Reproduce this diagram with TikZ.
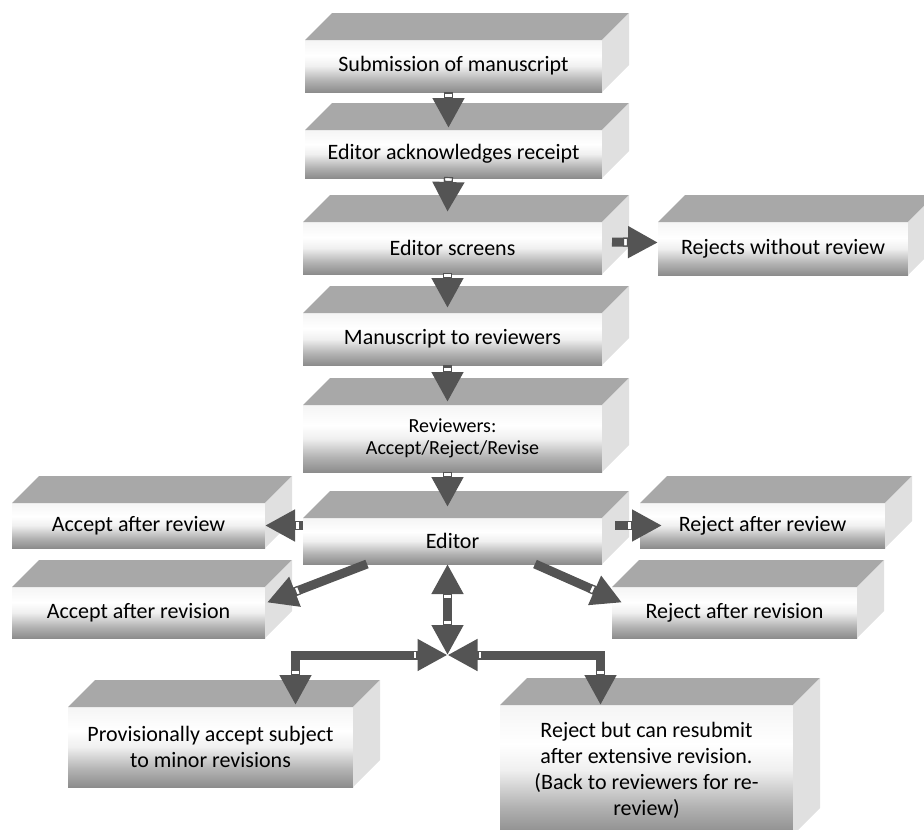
\documentclass[tikz,border=0pt]{standalone}
\usepackage{fontspec}
\setmainfont{Carlito}
\usetikzlibrary{arrows.meta}
\pgfdeclareverticalshading{slabshade}{100bp}{color(0bp)=(black!45); color(25bp)=(black!45); color(36bp)=(black!30); color(50bp)=(black!6); color(60bp)=(white); color(75bp)=(black!4); color(100bp)=(black!4)}
\begin{document}
\begin{tikzpicture}[x=1pt, y=-1pt,
  every node/.style={font=\fontsize{22}{26}\selectfont, text=black},
  slab/.style={shade, shading=slabshade, align=center, inner sep=0pt, outer sep=0pt},
  topface/.style={fill=black!34},
  sideface/.style={fill=black!12},
  flow/.style={draw=black!67, line width=9pt, -{Rectangle[length=5pt,width=9pt,line width=1.2pt,fill=white,sep=0pt] Triangle[width=30pt,length=30pt]}},
  flowboth/.style={draw=black!67, line width=9pt, {Triangle[width=30pt,length=30pt] Rectangle[length=5pt,width=9pt,line width=1.2pt,fill=white,sep=0pt]}-{Rectangle[length=5pt,width=9pt,line width=1.2pt,fill=white,sep=0pt] Triangle[width=30pt,length=30pt]}}]
\useasboundingbox (0,0) rectangle (924,830);
% Main column
\node[slab, minimum width=297pt, minimum height=52pt] (sub) at (453.5,66) {Submission of manuscript};
\node[slab, minimum width=297pt, minimum height=48pt] (ack) at (453.5,154) {Editor acknowledges receipt};
\node[slab, minimum width=299pt, minimum height=52pt] (scr) at (452.5,248) {Editor screens};
\node[slab, minimum width=299pt, minimum height=52pt] (mtr) at (452.5,339) {Manuscript to reviewers};
\node[slab, minimum width=299pt, minimum height=67pt, font=\fontsize{20}{22}\selectfont] (rev) at (452.5,438.5) {Reviewers:\\Accept/Reject/Revise};
\node[slab, minimum width=299pt, minimum height=46pt] (ed) at (452.5,541) {Editor};
% Outcomes
\node[slab, minimum width=250pt, minimum height=53pt] (rwo) at (783,248.5) {Rejects without review};
\node[slab, minimum width=253pt, minimum height=45pt] (aar) at (138.5,525.5) {Accept after review};
\node[slab, minimum width=253pt, minimum height=51pt] (aav) at (138.5,612.5) {Accept after revision};
\node[slab, minimum width=245pt, minimum height=45pt] (rar) at (762.5,525.5) {Reject after review};
\node[slab, minimum width=245pt, minimum height=51pt] (rjv) at (734.5,612.5) {Reject after revision};
\node[slab, minimum width=285pt, minimum height=80pt] (pas) at (210.5,747) {Provisionally accept subject\\to minor revisions};
\node[slab, minimum width=293pt, minimum height=130pt] (rbr) at (646.5,770) {Reject but can resubmit\\after extensive revision.\\(Back to reviewers for re-\\review)};
% Top and side faces
\foreach \n in {sub,ack,scr,mtr,rev,ed,rwo,aar,aav,rar,rjv,pas,rbr} {
  \fill[topface] (\n.north west) -- ([xshift=27pt,yshift=27pt]\n.north west) -- ([xshift=27pt,yshift=27pt]\n.north east) -- (\n.north east) -- cycle;
  \fill[sideface] (\n.north east) -- ([xshift=27pt,yshift=27pt]\n.north east) -- ([xshift=27pt,yshift=27pt]\n.south east) -- (\n.south east) -- cycle;
}
% Arrows
\foreach \a/\b/\d in {sub/ack/2pt, ack/scr/10pt, scr/mtr/5pt, mtr/rev/3pt, rev/ed/11pt}
  \draw[flow] ([xshift=-5pt]\a.south) -- ([xshift=-5pt,yshift=\d]\b.north);
\draw[flow] ([xshift=10pt,yshift=6pt]scr.east) -- ([yshift=6pt]rwo.west);
\draw[flow] (aar.east -| ed.west) -- (aar.east);
\draw[flow, shorten <=13pt] (rar.west -| ed.east) -- ([xshift=22pt]rar.west);
\draw[flow] ([xshift=64pt]ed.south west) -- ([xshift=2pt,yshift=10pt]aav.east);
\draw[flow] ([xshift=-67pt]ed.south east) -- ([xshift=10pt,yshift=10pt]rjv.west);
\coordinate (jn) at (447.5,655);
\draw[flowboth] ([xshift=-5pt]ed.south) -- (jn);
\draw[flowboth] (jn) -| ([xshift=85pt,yshift=2pt]pas.north);
\draw[flowboth] (jn) -| ([xshift=-46pt]rbr.north);
\end{tikzpicture}
\end{document}
